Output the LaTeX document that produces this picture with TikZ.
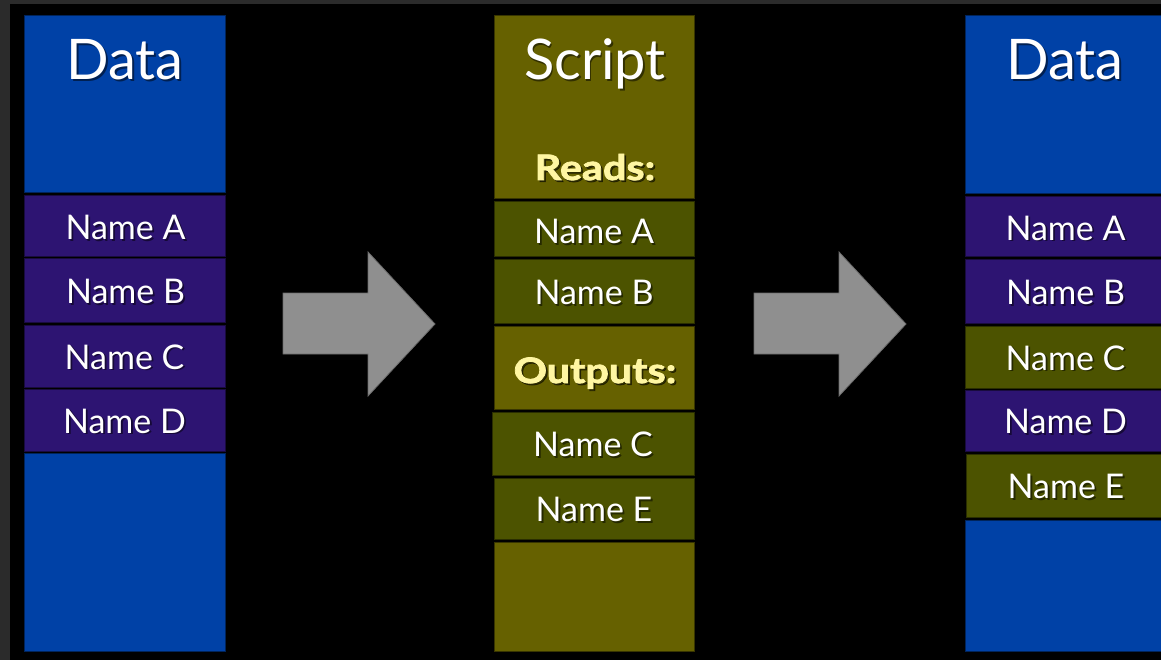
\documentclass[tikz,border=0pt]{standalone}
\usepackage{fontspec}
\setmainfont{Lato}
\newfontfamily\heavyfont{Lato}[BoldFeatures={FakeBold=2.2, FakeStretch=1.18}]
\usetikzlibrary{calc}

\definecolor{frame}{HTML}{2B2B2B}
\definecolor{databl}{HTML}{0041A6}
\definecolor{namepu}{HTML}{2D1472}
\definecolor{scriptol}{HTML}{666100}
\definecolor{nameol}{HTML}{4C5300}
\definecolor{headyel}{HTML}{FFF6A2}
\definecolor{arrowgr}{HTML}{8F8F8F}

\tikzset{
  cellbox/.style={draw=#1!55!black, line width=1pt, fill=#1, inner sep=0pt, outer sep=0pt, anchor=north west},
  bigtext/.style={text=white, font=\fontsize{56}{60}\selectfont, inner sep=0pt, anchor=base},
  nametext/.style={text=white, font=\fontsize{34}{40}\selectfont, inner sep=0pt, anchor=center},
  headtext/.style={text=headyel, font=\heavyfont\bfseries\fontsize{35}{40}\selectfont, inner sep=0pt, anchor=base},
  bigarrow/.style={fill=arrowgr, draw=arrowgr!75!black, line width=0.8pt, line join=miter}
}

% a cell: name, x0, y0, x1, y1, colour
\newcommand\cell[6]{%
  \node[cellbox=#6, minimum width={#4-#2}, minimum height={#5-#3}] (#1) at (#2,#3) {};}
% text with a soft drop shadow: name, position, style, text
\newcommand\shadowed[4]{%
  \node[#3, text=black, opacity=0.5] at ($(#2)+(1.8,1.8)$) {#4};
  \node[#3] (#1) at (#2) {#4};}

\begin{document}
\begin{tikzpicture}[x=1pt,y=-1pt]
  % frame and stage
  \fill[frame] (0,0) rectangle (1161,660);
  \fill[black] (10,4) rectangle (1161,660);
  \useasboundingbox (0,0) rectangle (1161,660);

  % left data column
  \cell{ldata}{24}{16}{225}{193}{databl}
  \cell{lna}{24}{196}{225}{257}{namepu}
  \cell{lnb}{24}{259}{225}{322}{namepu}
  \cell{lnc}{24}{325}{225}{387}{namepu}
  \cell{lnd}{24}{389}{225}{451}{namepu}
  \cell{lrest}{24}{453}{225}{651}{databl}

  % script column
  \cell{sread}{494}{16}{694}{199}{scriptol}
  \cell{sna}{494}{202}{694}{257}{nameol}
  \cell{snb}{494}{260}{694}{323}{nameol}
  \cell{sout}{494}{326}{694}{409}{scriptol}
  \cell{snc}{492}{412}{694}{475}{nameol}
  \cell{sne}{494}{478}{694}{539}{nameol}
  \cell{srest}{494}{542}{694}{651}{scriptol}

  % right data column
  \cell{rdata}{965}{16}{1166}{194}{databl}
  \cell{rna}{965}{197}{1166}{257}{namepu}
  \cell{rnb}{965}{260}{1166}{323}{namepu}
  \cell{rnc}{965}{326}{1166}{388}{nameol}
  \cell{rnd}{965}{390}{1166}{451}{namepu}
  \cell{rne}{966}{454}{1166}{517}{nameol}
  \cell{rrest}{965}{520}{1166}{651}{databl}

  % headings
  \coordinate (ldatab) at (125,80);
  \coordinate (scriptb) at (595,80);
  \coordinate (rdatab) at (1065,80);
  \coordinate (readsb) at (595,180);
  \coordinate (outb) at (595,383);
  \shadowed{tldata}{ldatab}{bigtext}{Data}
  \shadowed{tscript}{scriptb}{bigtext}{Script}
  \shadowed{trdata}{rdatab}{bigtext}{Data}
  \shadowed{treads}{readsb}{headtext}{Reads:}
  \shadowed{touts}{outb}{headtext}{Outputs:}

  % name labels
  \shadowed{tlna}{$(lna.center)+(1,1)$}{nametext}{Name A}
  \shadowed{tlnb}{$(lnb.center)+(1,1)$}{nametext}{Name B}
  \shadowed{tlnc}{$(lnc.center)+(0,1)$}{nametext}{Name C}
  \shadowed{tlnd}{$(lnd.center)+(0,1)$}{nametext}{Name D}
  \shadowed{tsna}{$(sna.center)+(0,2)$}{nametext}{Name A}
  \shadowed{tsnb}{$(snb.center)+(0,1)$}{nametext}{Name B}
  \shadowed{tsnc}{$(snc.center)+(0,1)$}{nametext}{Name C}
  \shadowed{tsne}{$(sne.center)+(0,1)$}{nametext}{Name E}
  \shadowed{trna}{$(rna.center)+(0,1)$}{nametext}{Name A}
  \shadowed{trnb}{$(rnb.center)+(0,1)$}{nametext}{Name B}
  \shadowed{trnc}{$(rnc.center)+(0,1)$}{nametext}{Name C}
  \shadowed{trnd}{$(rnd.center)+(0,1)$}{nametext}{Name D}
  \shadowed{trne}{$(rne.center)+(0,1)$}{nametext}{Name E}

  % block arrows between the columns
  \draw[bigarrow] (283,293) -- (368,293) -- (368,252) -- (435,324)
    -- (368,396) -- (368,354) -- (283,354) -- cycle;
  \draw[bigarrow] (754,293) -- (839,293) -- (839,252) -- (906,324)
    -- (839,396) -- (839,354) -- (754,354) -- cycle;
\end{tikzpicture}
\end{document}
